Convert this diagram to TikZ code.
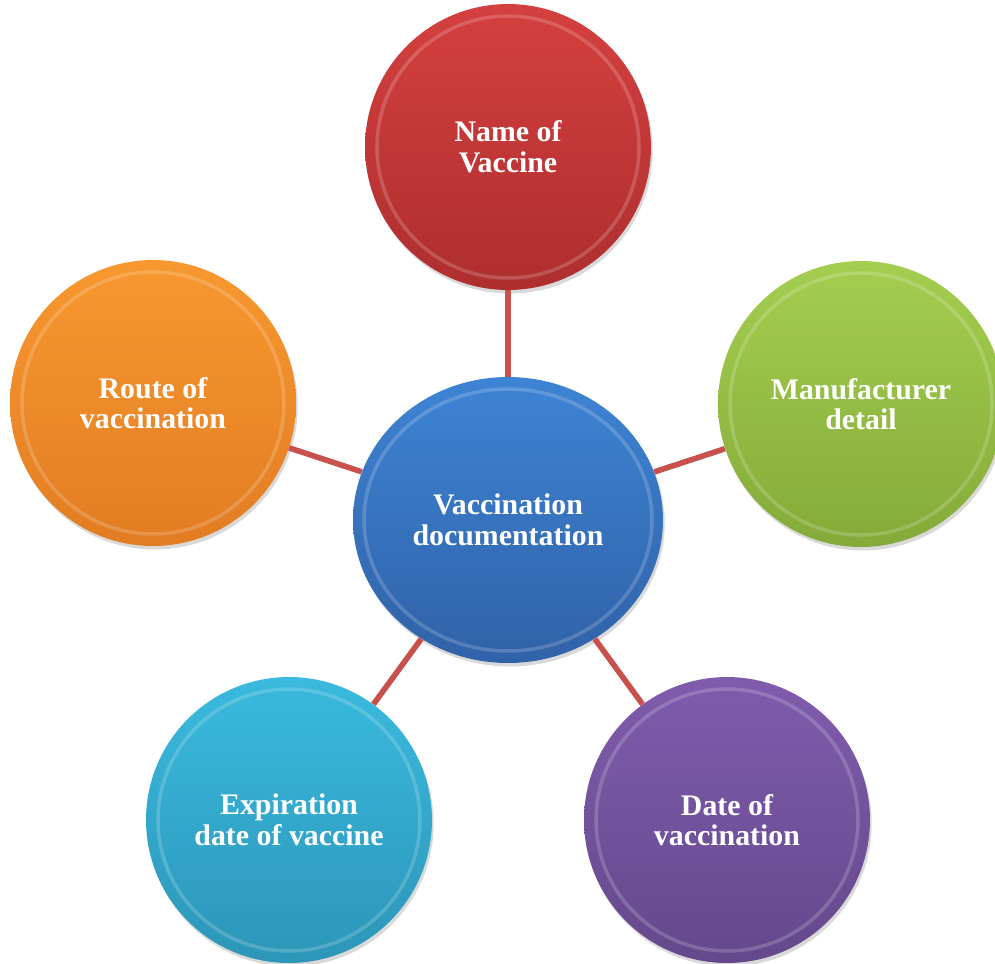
\documentclass[tikz,border=0pt]{standalone}
\usepackage{fontspec}
\setmainfont{Liberation Serif}
\usetikzlibrary{shapes.geometric,shadows}
\definecolor{redA}{RGB}{212,64,63}
\definecolor{redB}{RGB}{174,46,46}
\definecolor{orangeA}{RGB}{248,152,48}
\definecolor{orangeB}{RGB}{226,124,34}
\definecolor{greenA}{RGB}{164,206,80}
\definecolor{greenB}{RGB}{132,171,57}
\definecolor{purpleA}{RGB}{128,92,172}
\definecolor{purpleB}{RGB}{100,72,140}
\definecolor{cyanA}{RGB}{58,186,222}
\definecolor{cyanB}{RGB}{44,150,184}
\definecolor{blueA}{RGB}{62,132,212}
\definecolor{blueB}{RGB}{48,98,168}
\definecolor{linkred}{RGB}{200,80,77}

\begin{document}
\begin{tikzpicture}[x=0.02cm,y=-0.02cm,
        ball/.style={circle,minimum size=5.72cm,inner sep=0pt,text=white,align=center,
            font=\fontsize{17}{17.5}\selectfont\bfseries,
            drop shadow={opacity=0.3,shadow xshift=1pt,shadow yshift=-2pt}},
        rim/.style={white,opacity=0.18,line width=2pt},
        link/.style={draw=linkred,line width=3.2pt}]
            \useasboundingbox (0,0) rectangle (995,964);
            \node[ball,ellipse,minimum width=6.2cm,minimum height=5.72cm,top color=blueA,bottom color=blueB] (doc) at (508,520) {Vaccination\\documentation};
            \draw[rim] (doc) ellipse (2.88cm and 2.62cm);
            \foreach \n/\x/\y/\col/\txt in {name/508/147/red/{Name of\\Vaccine},
                    maker/861/404/green/{Manufacturer\\detail},
                    date/727/820/purple/{Date of\\vaccination},
                    expiry/289/820/cyan/{Expiration\\date of vaccine},
                    route/153/403/orange/{Route of\\vaccination}}
            {
                \node[ball,top color=\col A,bottom color=\col B] (\n) at (\x,\y) {\txt};
                \draw[rim] (\n) circle (2.62cm);
            }
            \foreach \n in {name,maker,date,expiry,route}
                \draw[link] (doc) -- (\n);
        \end{tikzpicture}
\end{document}
